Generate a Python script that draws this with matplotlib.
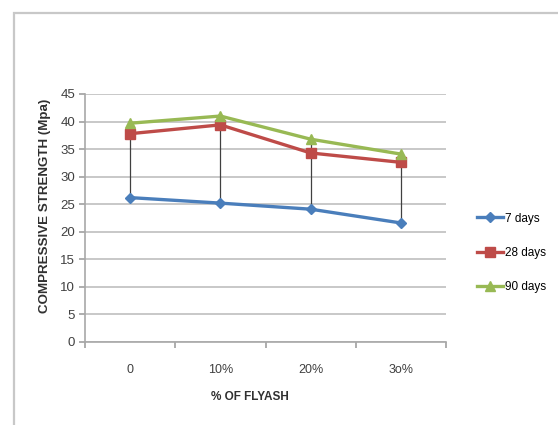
import matplotlib
matplotlib.use("Agg")
import matplotlib.pyplot as plt
from matplotlib.patches import Rectangle
import numpy as np

# data
categories = ["0", "10%", "20%", "3o%"]
days_7 = [26.2, 25.2, 24.1, 21.6]
days_28 = [37.8, 39.4, 34.3, 32.6]
days_90 = [39.7, 41.0, 36.8, 34.1]
series_names = ["7 days", "28 days", "90 days"]
y_ticks = list(range(0, 50, 5))

plt.rcParams["font.family"] = ["Liberation Sans", "DejaVu Sans"]

fig = plt.figure(figsize=(5.58, 4.25), dpi=100)
W, H = 558, 425

# outer chart border (gray frame running off the right/bottom edge)
fig.patches.append(Rectangle((14 / W, -0.05), 1.1, 1 - 13 / H + 0.05,
                             transform=fig.transFigure, fill=False,
                             edgecolor="#c8c8c8", linewidth=1.6))

ax = fig.add_axes([85 / W, 1 - 342 / H, (446 - 85) / W, (342 - 94) / H])

x = np.arange(len(categories))
all_series = np.array([days_7, days_28, days_90])

# high-low lines
ax.vlines(x, all_series.min(axis=0), all_series.max(axis=0),
          color="#404040", linewidth=0.9, zorder=2)

styles = [("#4a7ebb", "D", 5), ("#be4b48", "s", 6.5), ("#98b954", "^", 6.5)]
for vals, name, (c, m, ms) in zip(all_series, series_names, styles):
    ax.plot(x, vals, color=c, marker=m, markersize=ms, linewidth=2.4,
            label=name, zorder=3)

ax.set_xlim(-0.5, len(categories) - 0.5)
ax.set_ylim(0, 45)
ax.set_yticks(y_ticks)
ax.set_xticks(x)
ax.set_xticklabels(categories)
ax.set_xticks(np.arange(-0.5, len(categories)), minor=True)
ax.tick_params(axis="x", which="major", length=0, pad=16, labelsize=9,
               labelcolor="#404040")
ax.tick_params(axis="x", which="minor", length=4, color="#a0a0a0", width=1.2)
ax.tick_params(axis="y", length=4, color="#a0a0a0", width=1.2, labelsize=9.5,
               labelcolor="#404040", pad=3)

ax.yaxis.grid(True, color="#c8c8c8", linewidth=1.4)
ax.set_axisbelow(True)
for s in ["top", "right"]:
    ax.spines[s].set_visible(False)
for s in ["left", "bottom"]:
    ax.spines[s].set_color("#a8a8a8")
    ax.spines[s].set_linewidth(1.2)

ax.set_xlabel("% OF FLYASH", fontsize=8.5, fontweight="bold",
              color="#303030")
ax.xaxis.set_label_coords((250 - 85) / 361, -(397 - 342) / 248)
ax.set_ylabel("COMPRESSIVE STRENGTH (Mpa)", fontsize=9.6, fontweight="bold",
              color="#303030")
ax.yaxis.set_label_coords(-(85 - 45) / 361, (342 - 206) / 248)
ax.yaxis.label.set_verticalalignment("center")
ax.xaxis.label.set_verticalalignment("center")

fig.legend(loc="center left", bbox_to_anchor=(466 / W, 1 - 253 / H),
           frameon=False, fontsize=8.5, labelspacing=1.9, handlelength=2.2,
           handletextpad=0.2)

fig.savefig("out.png", dpi=100)
